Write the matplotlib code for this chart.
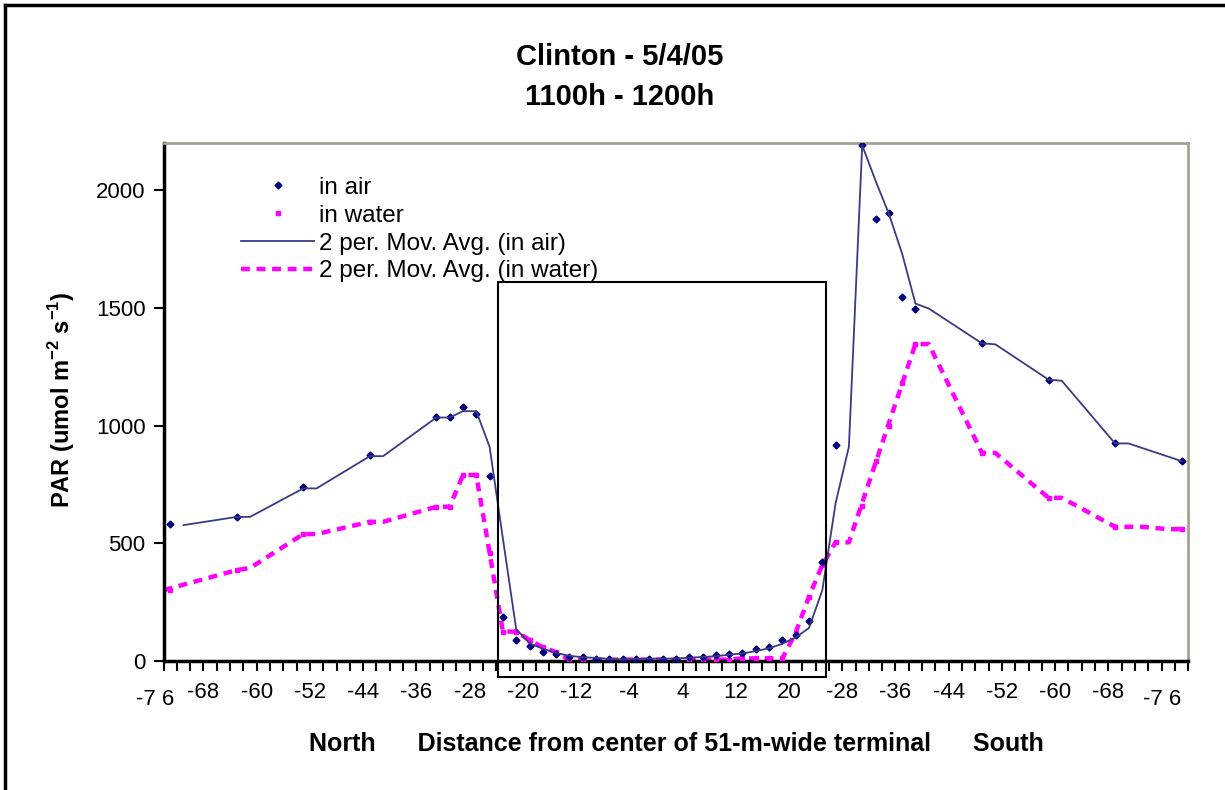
import matplotlib
matplotlib.use('Agg')
import matplotlib.pyplot as plt
from matplotlib.lines import Line2D
from matplotlib.patches import Rectangle
from matplotlib.ticker import FixedLocator, MultipleLocator

plt.rcParams['font.family'] = ['Liberation Sans', 'DejaVu Sans']
plt.rcParams['mathtext.fontset'] = 'custom'
plt.rcParams['mathtext.rm'] = 'Liberation Sans'
plt.rcParams['mathtext.bf'] = 'Liberation Sans:bold'

# Positions along the transect (m); the south side is labelled as negative distances
air_x = [-73, -63, -53, -43, -33, -31, -29, -27, -25, -23,
         -21, -19, -17, -15, -13, -11, -9, -7, -5, -3,
         -1, 1, 3, 5, 7, 9, 11, 13, 15, 17,
         19, 21, 23, 25, 27, 31, 33, 35, 37, 39,
         49, 59, 69, 79]
air_y = [581, 612, 737, 874, 1037, 1037, 1079, 1047, 785, 188,
         89, 64, 40, 28, 16, 16, 10, 7, 7, 10,
         10, 10, 10, 18, 16, 25, 30, 35, 50, 58,
         89, 110, 171, 421, 917, 2190, 1877, 1904, 1544, 1493,
         1349, 1193, 924, 849]
water_x = air_x
water_y = [301, 386, 539, 591, 655, 655, 790, 790, 460, 125,
           125, 89, 58, 37, 8, 5, 4, 3, 3, 3,
           3, 3, 3, 3, 3, 4, 5, 11, 11, 11,
           11, 120, 273, 407, 504, 660, 850, 1000, 1180, 1346,
           884, 693, 570, 560]

# 2 per. moving average lines
ma_air_x = [-71, -63, -61, -53, -51, -43, -41, -33, -31, -29,
            -27, -25, -23, -21, -19, -17, -15, -13, -11, -9,
            -7, -5, -3, -1, 1, 3, 5, 7, 9, 11,
            13, 15, 17, 19, 21, 23, 25, 27, 29, 31,
            33, 35, 37, 39, 41, 49, 51, 59, 61, 69,
            71, 79]
ma_air_y = [577, 612, 612, 733, 733, 870, 870, 1034, 1034, 1061,
            1061, 910, 520, 135, 75, 52, 34, 22, 16, 13,
            9, 7, 8, 10, 10, 10, 14, 17, 20, 27,
            32, 42, 54, 73, 100, 140, 300, 670, 910, 2190,
            2040, 1900, 1730, 1518, 1497, 1349, 1345, 1195, 1190, 924,
            924, 849]
ma_water_x = [-74, -63, -61, -53, -51, -43, -41, -33, -31, -29,
              -27, -25, -23, -21, -19, -17, -15, -13, 11, 13,
              19, 21, 23, 25, 27, 29, 39, 41, 49, 51,
              59, 61, 69, 73, 77, 79]
ma_water_y = [301, 386, 395, 539, 539, 591, 591, 655, 655, 790,
              790, 460, 125, 125, 89, 58, 37, 6, 6, 11,
              11, 120, 273, 407, 504, 504, 1346, 1346, 884, 884,
              693, 693, 570, 570, 560, 560]

tick_pos = list(range(-68, 69, 8))
tick_labels = [str(-abs(t)) if abs(t) > 24 else str(t) for t in tick_pos]
terminal = (-23.7, 25.6)

fig = plt.figure(figsize=(12.25, 7.9), dpi=100)
ax = fig.add_axes([0.1335, 0.1633, 0.8365, 0.6557])

ax.plot(air_x, air_y, 'D', color='#000080', markersize=3.5, label='in air', zorder=4)
ax.plot(water_x, water_y, 's', color='#ff00ff', markersize=3, label='in water', zorder=3)
ax.plot(ma_air_x, ma_air_y, color='#3a3a85', lw=1.3, label='2 per. Mov. Avg. (in air)', zorder=5)
ax.plot(ma_water_x, ma_water_y, color='#ff00ff', lw=3.2, linestyle=(0, (2, 1.5)),
        label='2 per. Mov. Avg. (in water)', zorder=2)

# box marking the terminal
ax.add_patch(Rectangle((terminal[0], -68), terminal[1] - terminal[0], 1677,
                       fill=False, edgecolor='black', lw=1.5, clip_on=False, zorder=6))

ax.set_xlim(-74, 80)
ax.set_ylim(0, 2200)
ax.xaxis.set_major_locator(FixedLocator(tick_pos))
ax.set_xticklabels(tick_labels)
ax.xaxis.set_minor_locator(MultipleLocator(2))
ax.set_yticks([0, 500, 1000, 1500, 2000])
ax.tick_params(axis='x', which='both', direction='out', length=7, width=1.5, pad=8, labelsize=16)
ax.tick_params(axis='y', direction='out', length=7, width=1.5, pad=6, labelsize=16)
for u in (-75.2, 76):
    ax.text(u, -0.055, '-7 6', transform=ax.get_xaxis_transform(), ha='center', va='top',
            fontsize=16, clip_on=False)

for side in ('left', 'bottom'):
    ax.spines[side].set_linewidth(2.5)
    ax.spines[side].set_color('black')
for side in ('top', 'right'):
    ax.spines[side].set_linewidth(2)
    ax.spines[side].set_color('#a3a190')

ax.set_ylabel(r'PAR (umol m$^{\mathbf{-2}}$ s$^{\mathbf{-1}}$)', fontsize=17, fontweight='bold')
ax.yaxis.set_label_coords(-0.084, 0.504)
ax.set_xlabel('North      Distance from center of 51-m-wide terminal      South',
              fontsize=18, fontweight='bold')
ax.xaxis.set_label_coords(0.5, -0.137)

ax.legend(loc='upper left', bbox_to_anchor=(0.057, 0.972), frameon=False, fontsize=17.5,
          handlelength=3.0, handletextpad=0.2, labelspacing=0.24, borderpad=0.3)

fig.text(0.506, 1 - 57 / 790, 'Clinton - 5/4/05', ha='center', va='center',
         fontsize=21, fontweight='bold')
fig.text(0.506, 1 - 97 / 790, '1100h - 1200h', ha='center', va='center',
         fontsize=21, fontweight='bold')

# outer chart frame
fig.add_artist(Line2D([0.004, 0.004], [0, 1 - 5 / 790], color='black', lw=2.5))
fig.add_artist(Line2D([0.004, 1], [1 - 5 / 790, 1 - 5 / 790], color='black', lw=2.5))

fig.savefig('out.png', dpi=100)
